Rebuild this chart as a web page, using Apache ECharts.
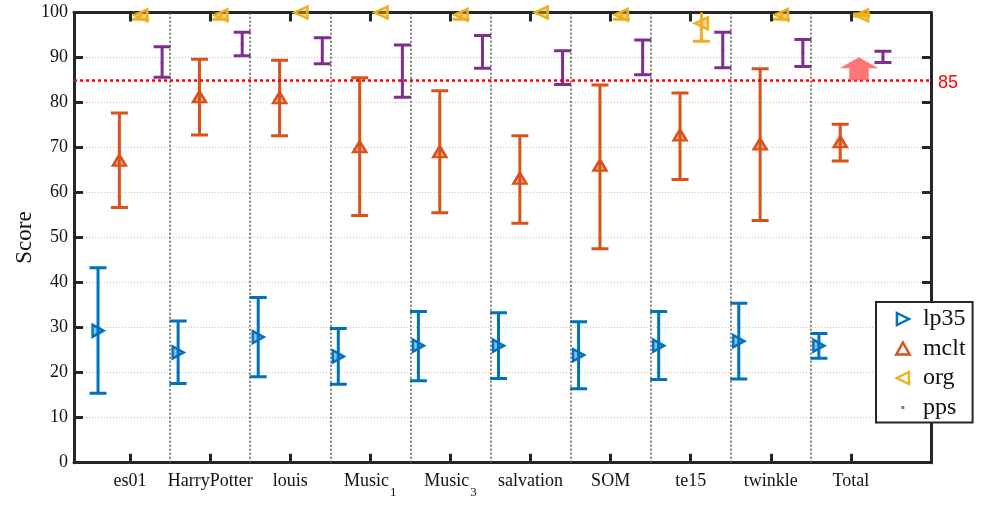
<!DOCTYPE html>
<html>
<head>
<meta charset="utf-8">
<script src="https://cdn.jsdelivr.net/npm/echarts@6/dist/echarts.min.js"></script>
<style>html,body{margin:0;padding:0;background:#fff;}#c{width:989px;height:515px;}</style>
</head>
<body>
<div id="c"></div>
<script>
// ---- data ----
const categories = ['es01', 'HarryPotter', 'louis', 'Music_1', 'Music_3', 'salvation', 'SOM', 'te15', 'twinkle', 'Total'];
const yTicks = [0, 10, 20, 30, 40, 50, 60, 70, 80, 90, 100];

const lp35Mean = [29.3, 24.5, 27.9, 23.6, 26.0, 26.0, 23.9, 26.0, 27.0, 26.0];
const lp35Low  = [15.4, 17.6, 19.1, 17.4, 18.2, 18.7, 16.4, 18.5, 18.6, 23.2];
const lp35High = [43.3, 31.5, 36.7, 29.8, 33.6, 33.3, 31.3, 33.6, 35.4, 28.7];

const mcltMean = [67.2, 81.3, 81.1, 70.2, 69.1, 63.2, 66.1, 72.8, 70.8, 71.3];
const mcltLow  = [56.7, 72.8, 72.6, 54.9, 55.5, 53.2, 47.5, 62.9, 53.8, 67.0];
const mcltHigh = [77.7, 89.6, 89.4, 85.5, 82.6, 72.6, 83.9, 82.1, 87.5, 75.2];

const orgMean = [99.4, 99.4, 100, 100, 99.5, 100, 99.5, 97.6, 99.5, 99.4];
const orgLow  = [98.5, 98.5, null, null, 98.5, null, 98.5, 93.6, 98.5, 99.2];
const orgHigh = [100.3, 100.3, null, null, 100.5, null, 100.5, 101.6, 100.5, 99.7];

const ppsMean = [89.0, 93.0, 91.5, 87.0, 91.2, 87.8, 90.0, 91.6, 91.0, 90.1];
const ppsLow  = [85.6, 90.4, 88.6, 81.2, 87.6, 84.0, 86.2, 87.7, 88.0, 88.9];
const ppsHigh = [92.4, 95.6, 94.4, 92.8, 94.9, 91.5, 93.9, 95.6, 94.0, 91.4];

const thresholdValue = 85;
const arrowCategory = 10;      // Total
const arrowFrom = 85;
const arrowTo = 90;

// ---- styles ----
const C_BLUE = '#0072BD', C_ORANGE = '#D95319', C_YELLOW = '#EDB120', C_PURPLE = '#7E2F8E';
const F_BLUE = 'rgba(0,114,189,0.45)', F_ORANGE = 'rgba(217,83,25,0.45)', F_YELLOW = 'rgba(237,177,32,0.45)';
const AX = '#262626';
const SERIF = '"Liberation Serif", "Times New Roman", serif';
const P_RIGHT = 'path://M0,0L10,5L0,10Z';
const P_LEFT = 'path://M10,0L0,5L10,10Z';
const P_UP = 'path://M5,0L10,9L0,9Z';
const P_DOT = 'path://M0,0h0.01v0.01h-0.01z M3.8,3.8h2.4v2.4h-2.4z M10,10h0.01v0.01h-0.01z';

const catPos = categories.map((c, i) => i + 1);
const offsets = { lp35: -0.4, mclt: -0.1333, org: 0.1333, pps: 0.4 };

function errSeries(name, off, low, high, color) {
  return {
    type: 'custom', name: name + '_err', clip: true, silent: true, z: 3,
    encode: { x: 0, y: [1, 2] },
    data: catPos.map((p, i) => [p + off, low[i] == null ? '-' : low[i], high[i] == null ? '-' : high[i]]),
    renderItem: function (params, api) {
      const x = api.value(0), lo = api.value(1), hi = api.value(2);
      if (isNaN(lo) || isNaN(hi)) return null;
      const a = api.coord([x, lo]), b = api.coord([x, hi]);
      const hw = 8.5, st = { stroke: color, lineWidth: 3 };
      return {
        type: 'group', children: [
          { type: 'line', shape: { x1: a[0], y1: a[1], x2: b[0], y2: b[1] }, style: st },
          { type: 'line', shape: { x1: a[0] - hw, y1: a[1], x2: a[0] + hw, y2: a[1] }, style: st },
          { type: 'line', shape: { x1: b[0] - hw, y1: b[1], x2: b[0] + hw, y2: b[1] }, style: st }
        ]
      };
    }
  };
}

function markSeries(name, off, mean, color, fill, symbol, size) {
  return {
    type: 'scatter', name: name, z: 5, silent: true,
    symbol: symbol, symbolSize: size, symbolKeepAspect: false,
    itemStyle: fill ? { color: fill, borderColor: color, borderWidth: 2.5, opacity: 1 } : { color: color },
    data: catPos.map((p, i) => [p + off, mean[i]])
  };
}

const chart = echarts.init(document.getElementById('c'), null, { renderer: 'canvas' });

const option = {
  animation: false,
  backgroundColor: '#fff',
  grid: { left: 74, right: 58, top: 12.5, bottom: 52.3, containLabel: false },
  xAxis: [
    {
      type: 'value', min: 0.3, max: 11, position: 'bottom',
      axisLine: { show: true, onZero: false, lineStyle: { color: AX, width: 3 } },
      axisTick: { show: true, inside: true, length: 9, lineStyle: { color: AX, width: 3 }, customValues: catPos },
      axisLabel: {
        show: true, customValues: catPos, margin: 10, color: '#111',
        formatter: function (v) {
          const name = categories[Math.round(v) - 1] || '';
          if (name.indexOf('_') >= 0) {
            const parts = name.split('_');
            return '{n|' + parts[0] + '}{s|' + parts[1] + '}';
          }
          return '{n|' + name + '}';
        },
        rich: {
          n: { fontFamily: SERIF, fontSize: 18, lineHeight: 20, verticalAlign: 'top', color: '#111' },
          s: { fontFamily: SERIF, fontSize: 13, lineHeight: 26, verticalAlign: 'bottom', color: '#111', padding: [0, 0, 0, 1] }
        }
      },
      splitLine: { show: false }
    },
    {
      type: 'value', min: 0.3, max: 11, position: 'top',
      axisLine: { show: true, onZero: false, lineStyle: { color: AX, width: 3 } },
      axisTick: { show: true, inside: true, length: 9, lineStyle: { color: AX, width: 3 }, customValues: catPos },
      axisLabel: { show: false },
      splitLine: { show: false }
    }
  ],
  yAxis: [
    {
      type: 'value', min: 0, max: 100, interval: 10, position: 'left',
      name: 'Score', nameLocation: 'middle', nameGap: 38, nameRotate: 90, nameMoveOverlap: false,
      nameTextStyle: { fontFamily: SERIF, fontSize: 23, color: '#111' },
      axisLine: { show: true, onZero: false, lineStyle: { color: AX, width: 3 } },
      axisTick: { show: true, inside: true, length: 9, lineStyle: { color: AX, width: 3 } },
      axisLabel: { fontFamily: SERIF, fontSize: 18, color: '#111', margin: 6,
        formatter: function (v) { return yTicks.indexOf(v) >= 0 ? String(v) : ''; } },
      splitLine: { show: true, lineStyle: { color: '#c4c4c4', width: 1, type: [1, 2] } }
    },
    {
      type: 'value', min: 0, max: 100, interval: 10, position: 'right',
      axisLine: { show: true, onZero: false, lineStyle: { color: AX, width: 3 } },
      axisTick: { show: true, inside: true, length: 9, lineStyle: { color: AX, width: 3 } },
      axisLabel: { show: false },
      splitLine: { show: false }
    }
  ],
  legend: {
    orient: 'vertical', left: 876, top: 302,
    padding: [5, 7, 3, 19], itemGap: 5.5, itemWidth: 30, itemHeight: 12,
    backgroundColor: '#fff', borderColor: AX, borderWidth: 2, borderRadius: 0,
    selectedMode: false,
    textStyle: { fontFamily: SERIF, fontSize: 24, lineHeight: 24, color: '#111' },
    data: [
      { name: 'lp35', icon: P_RIGHT, itemStyle: { color: '#fff', borderColor: C_BLUE, borderWidth: 2.5 } },
      { name: 'mclt', icon: P_UP, itemStyle: { color: '#fff', borderColor: C_ORANGE, borderWidth: 2.5 } },
      { name: 'org', icon: P_LEFT, itemStyle: { color: '#fff', borderColor: C_YELLOW, borderWidth: 2.5 } },
      { name: 'pps', icon: P_DOT, itemStyle: { color: C_PURPLE, borderWidth: 0 } }
    ]
  },
  series: [
    {
      type: 'scatter', name: 'guides', data: [], silent: true, z: 1,
      markLine: {
        silent: true, symbol: ['none', 'none'], animation: false,
        label: { show: false },
        lineStyle: { color: '#555', width: 1.5, type: [2, 2] },
        data: catPos.slice(0, 9).map(p => ({ xAxis: p + 0.5 }))
      }
    },
    {
      type: 'scatter', name: 'threshold', data: [], silent: true, z: 6,
      markLine: {
        silent: true, symbol: ['none', 'none'], animation: false,
        lineStyle: { color: '#FF0000', width: 2.5, type: [3, 3] },
        label: { show: true, position: 'end', distance: 7, color: '#FF0000', fontFamily: '"Liberation Sans", Arial, sans-serif', fontSize: 18, offset: [0, 3],
          formatter: String(thresholdValue) },
        data: [{ yAxis: thresholdValue }]
      }
    },
    errSeries('lp35', offsets.lp35, lp35Low, lp35High, C_BLUE),
    errSeries('mclt', offsets.mclt, mcltLow, mcltHigh, C_ORANGE),
    errSeries('org', offsets.org, orgLow, orgHigh, C_YELLOW),
    errSeries('pps', offsets.pps, ppsLow, ppsHigh, C_PURPLE),
    markSeries('lp35', offsets.lp35, lp35Mean, C_BLUE, F_BLUE, P_RIGHT, [11, 12]),
    markSeries('mclt', offsets.mclt, mcltMean, C_ORANGE, F_ORANGE, P_UP, [13, 11]),
    markSeries('org', offsets.org, orgMean, C_YELLOW, F_YELLOW, P_LEFT, [13, 12]),
    markSeries('pps', offsets.pps, ppsMean, C_PURPLE, null, 'circle', 3),
    {
      type: 'custom', name: 'arrow', silent: true, z: 7, clip: false,
      encode: { x: 0, y: [1, 2] },
      data: [[arrowCategory + 0.1, arrowFrom, arrowTo]],
      renderItem: function (params, api) {
        const a = api.coord([api.value(0), api.value(1)]);
        const b = api.coord([api.value(0), api.value(2)]);
        const x = a[0], y0 = a[1], y1 = b[1];
        const headH = 10.5, shaftW = 9.5, headW = 18.5;
        const yh = y1 + headH;
        return {
          type: 'polygon',
          shape: { points: [[x - shaftW, y0], [x - shaftW, yh], [x - headW, yh], [x, y1], [x + headW, yh], [x + shaftW, yh], [x + shaftW, y0]] },
          style: { fill: 'rgba(255,80,80,0.78)', stroke: 'rgba(255,120,120,0.5)', lineWidth: 1 }
        };
      }
    }
  ]
};
chart.setOption(option);
</script>
</body>
</html>
